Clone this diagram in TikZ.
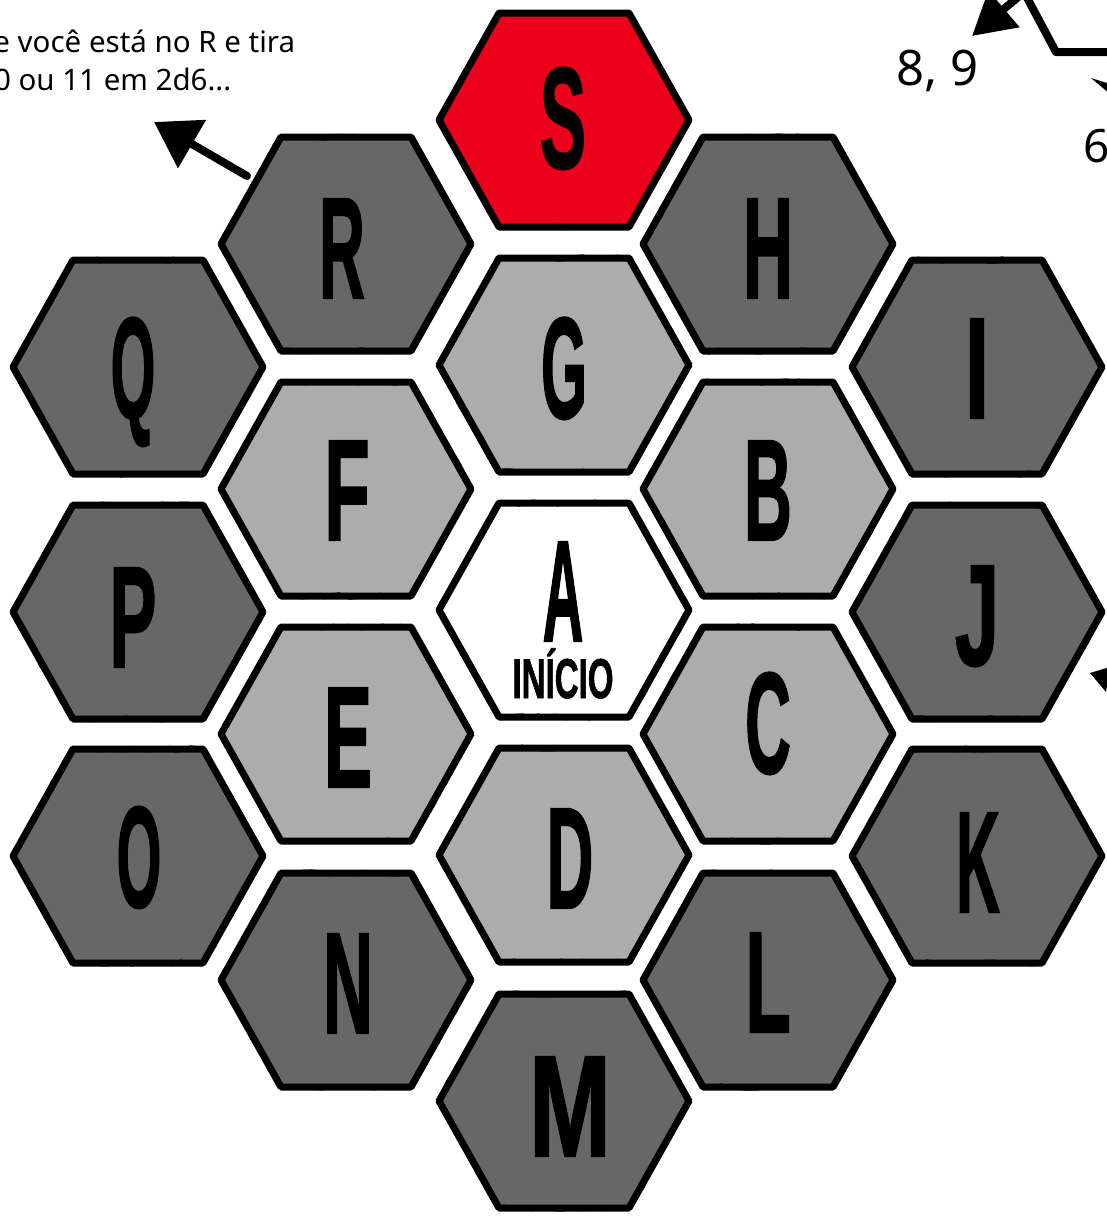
\documentclass[tikz,border=0pt]{standalone}
\usepackage{fontspec}
\setmainfont{Noto Sans}
\newfontfamily\letfont{Liberation Sans}[BoldFeatures={FakeBold=1.6}]
\usetikzlibrary{arrows.meta,decorations.pathmorphing}
\definecolor{hexdark}{RGB}{103,103,103}
\definecolor{hexlight}{RGB}{172,172,172}
\definecolor{hexred}{RGB}{236,0,28}
\newcommand\hl[2]{\scalebox{#1}[1]{#2}}
\newcommand\hexcell[2]{%
  \path[hexcell,fill=#2,shift={#1}] (-125,0) -- (-65,-107) -- (65,-107) -- (125,0) -- (65,107) -- (-65,107) -- cycle;}
\tikzset{
  hexcell/.style={draw=black,line width=7pt,line join=round,
    postaction={decorate,draw=black,line width=2.6pt,
      decoration={random steps,segment length=6pt,amplitude=2.4pt}}},
  let/.style={inner sep=0pt,anchor=base,font=\letfont\bfseries\fontsize{144}{144}\selectfont},
  small/.style={inner sep=0pt,anchor=base west},
  brush/.style={line width=8pt,line join=round,line cap=round},
}
\begin{document}
\begin{tikzpicture}[x=1pt,y=-1pt]
\pgfmathsetseed{11}
\useasboundingbox (0,0) rectangle (1107,1219);
\clip (0,0) rectangle (1107,1219);
\fill[white] (0,0) rectangle (1107,1219);
% hex cells
\hexcell{(564,120)}{hexred}
\hexcell{(346,244)}{hexdark}
\hexcell{(768,244)}{hexdark}
\hexcell{(564,365)}{hexlight}
\hexcell{(138,367)}{hexdark}
\hexcell{(977,367)}{hexdark}
\hexcell{(346,489)}{hexlight}
\hexcell{(768,489)}{hexlight}
\hexcell{(564,610)}{white}
\hexcell{(138,612)}{hexdark}
\hexcell{(977,612)}{hexdark}
\hexcell{(346,734)}{hexlight}
\hexcell{(768,734)}{hexlight}
\hexcell{(564,855)}{hexlight}
\hexcell{(138,856)}{hexdark}
\hexcell{(977,856)}{hexdark}
\hexcell{(346,980)}{hexdark}
\hexcell{(768,980)}{hexdark}
\hexcell{(564,1101)}{hexdark}
% letters
\node[let] (lS) at (563,168) {\hl{0.48}{S}};
\node[let] (lR) at (342,298) {\hl{0.44}{R}};
\node[let] (lH) at (768,298) {\hl{0.48}{H}};
\node[let] (lG) at (564,418) {\hl{0.41}{G}};
\node[let] (lQ) at (133,418) {\hl{0.40}{Q}};
\node[let] (lI) at (977,418) {\hl{0.62}{I}};
\node[let] (lF) at (347,540) {\hl{0.52}{F}};
\node[let] (lB) at (768,540) {\hl{0.46}{B}};
\node[let] (lA) at (563,641) {\hl{0.39}{A}};
\node[let,font=\letfont\bfseries\fontsize{56}{56}\selectfont] (inicio) at (563,698) {\hl{0.59}{INÍCIO}};
\node[let] (lP) at (133,667) {\hl{0.49}{P}};
\node[let] (lJ) at (977,665) {\hl{0.55}{J}};
\node[let] (lE) at (348,787) {\hl{0.50}{E}};
\node[let] (lC) at (768,773) {\hl{0.44}{C}};
\node[let] (lD) at (570,908) {\hl{0.45}{D}};
\node[let] (lO) at (139,907) {\hl{0.40}{O}};
\node[let] (lK) at (978,912) {\hl{0.42}{K}};
\node[let] (lN) at (348,1033) {\hl{0.48}{N}};
\node[let] (lL) at (768,1032) {\hl{0.52}{L}};
\node[let] (lM) at (570,1156) {\hl{0.68}{M}};
% texts
\node[small,font=\fontsize{29.5}{30}\selectfont] (t1) at (-23,52) {Se você está no R e tira};
\node[small,font=\fontsize{29.5}{30}\selectfont] (t2) at (-23,90) {10 ou 11 em 2d6...};
\node[small,font=\fontsize{49}{50}\selectfont] (t3) at (896,85) {8, 9};
\node[small,font=\fontsize{46}{47}\selectfont] (t4) at (1083,162) {6};
% arrows
\coordinate (a1s) at (247,176);
\coordinate (a1e) at (154,122);
\draw[brush,-{Triangle[length=44pt,width=54pt]}] (a1s) -- (a1e);
\coordinate (a2a) at (1115,52);
\coordinate (a2b) at (1056,52);
\coordinate (a2c) at (1024,-8);
\coordinate (a2e) at (972,36);
\draw[brush,-{Triangle[length=42pt,width=46pt]}] (a2a) -- (a2b) -- (a2c) -- (a2e);
\coordinate (m1) at (1091,78);
\coordinate (m2) at (1110,84);
\coordinate (m3) at (1110,94);
\fill[black] (m1) -- (m2) -- (m3) -- cycle;
\coordinate (m4) at (1090,673);
\coordinate (m5) at (1110,667);
\coordinate (m6) at (1106,692);
\fill[black] (m4) -- (m5) -- (m6) -- cycle;
\end{tikzpicture}
\end{document}
